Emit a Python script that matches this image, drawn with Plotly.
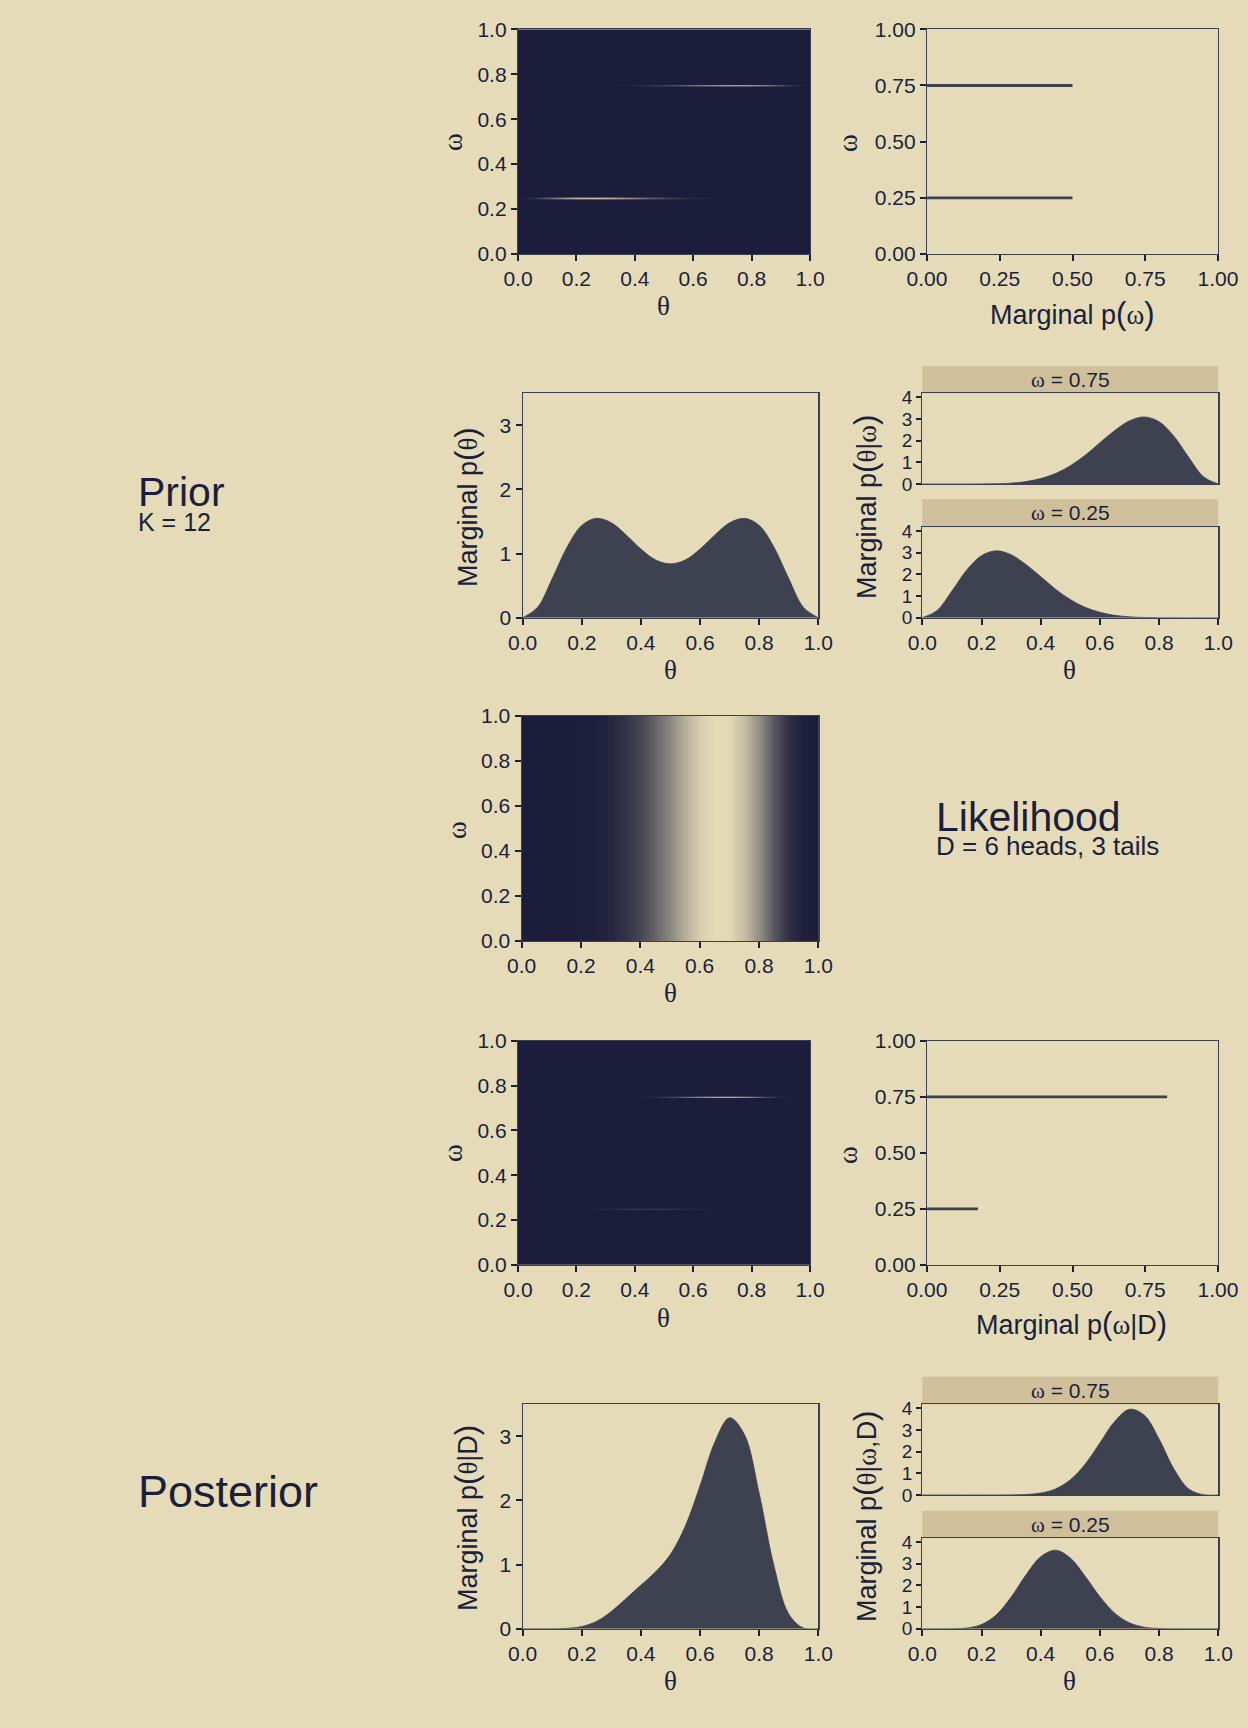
import plotly.graph_objects as go

W, H = 1248, 1728
BG = "#E5DBB8"
STRIP = "#CFC09B"
FILL = "#3D4150"
INK = "#1B1F3B"
BORDER = "#3A3F52"
DARK = "#1B1D3A"
FONT = "Liberation Sans, Arial, sans-serif"

# ---------------- data ----------------
theta = [0.00, 0.05, 0.10, 0.15, 0.20, 0.25, 0.30, 0.35, 0.40, 0.45, 0.50,
         0.55, 0.60, 0.65, 0.70, 0.75, 0.80, 0.85, 0.90, 0.95, 1.00]
omega_levels = [0.25, 0.75]
p_omega_prior = [0.50, 0.50]
p_omega_post = [0.175, 0.825]

prior_theta_w025 = [0, 0.33, 1.23, 2.20, 2.87, 3.09, 2.91, 2.46, 1.90, 1.32, 0.84,
                    0.48, 0.25, 0.11, 0.04, 0.01, 0.003, 0, 0, 0, 0]
prior_theta_w075 = [0, 0, 0, 0, 0.003, 0.01, 0.04, 0.11, 0.25, 0.48, 0.84,
                    1.32, 1.90, 2.46, 2.91, 3.09, 2.87, 2.20, 1.23, 0.33, 0]
prior_theta_marg = [0, 0.16, 0.61, 1.10, 1.44, 1.55, 1.48, 1.29, 1.07, 0.90, 0.84,
                    0.90, 1.07, 1.29, 1.48, 1.55, 1.44, 1.10, 0.61, 0.16, 0]
likelihood_rel = [0, 0, 0, 0, 0.004, 0.015, 0.05, 0.12, 0.22, 0.37, 0.56,
                  0.77, 0.93, 1.00, 0.98, 0.85, 0.60, 0.30, 0.10, 0.015, 0]
post_theta_w025 = [0, 0, 0.002, 0.03, 0.19, 0.64, 1.46, 2.48, 3.33, 3.63, 3.27,
                   2.43, 1.48, 0.72, 0.27, 0.07, 0.01, 0.001, 0, 0, 0]
post_theta_w075 = [0, 0, 0, 0, 0, 0.001, 0.005, 0.024, 0.09, 0.28, 0.70,
                   1.42, 2.40, 3.39, 3.95, 3.68, 2.58, 1.20, 0.28, 0.013, 0]
post_theta_marg = [0, 0, 0, 0.006, 0.034, 0.115, 0.27, 0.47, 0.68, 0.89, 1.16,
                   1.60, 2.23, 2.91, 3.29, 3.03, 2.11, 0.98, 0.23, 0.01, 0]

tick01 = [0, 0.2, 0.4, 0.6, 0.8, 1.0]
tick_q = [0, 0.25, 0.5, 0.75, 1.0]
tick_marg = [0, 1, 2, 3]
tick_facet = [0, 1, 2, 3, 4]

# ---------------- helpers ----------------
def dx(a, b):
    return [a / W, b / W]

def dy(top, bottom):
    return [1 - bottom / H, 1 - top / H]

def serif(s):
    return f'<span style="font-family:Liberation Serif">{s}</span>'

def sized(s, size):
    return f'<span style="font-size:{size}px">{s}</span>'

omega_step = 0.005
omega_grid = [round(i * omega_step, 4) for i in range(201)]

def joint(weights, cond025, cond075):
    z = []
    for w in omega_grid:
        if abs(w - omega_levels[0]) < 1e-9:
            z.append([weights[0] * v for v in cond025])
        elif abs(w - omega_levels[1]) < 1e-9:
            z.append([weights[1] * v for v in cond075])
        else:
            z.append([0.0] * len(theta))
    return z

cscale = [[0, DARK], [1, BG]]

fig = go.Figure()

def heat(z, y, n):
    fig.add_trace(go.Heatmap(x=theta, y=y, z=z, colorscale=cscale, showscale=False,
                             zsmooth="best", xaxis=f"x{n}", yaxis=f"y{n}", hoverinfo="skip"))

def area(vals, n):
    fig.add_trace(go.Scatter(x=theta, y=vals, mode="lines", fill="tozeroy",
                             fillcolor=FILL, line=dict(color=FILL, width=0.8, shape="spline"),
                             xaxis=f"x{n}", yaxis=f"y{n}", showlegend=False, hoverinfo="skip"))

def bars(ps, n):
    xs, ys = [], []
    for w, p in zip(omega_levels, ps):
        xs += [0, p, None]
        ys += [w, w, None]
    fig.add_trace(go.Scatter(x=xs, y=ys, mode="lines", line=dict(color=FILL, width=2.8),
                             xaxis=f"x{n}", yaxis=f"y{n}", showlegend=False, hoverinfo="skip"))

heat(joint(p_omega_prior, prior_theta_w025, prior_theta_w075), omega_grid, 1)
bars(p_omega_prior, 2)
area(prior_theta_marg, 3)
area(prior_theta_w075, 4)
area(prior_theta_w025, 5)
heat([likelihood_rel, likelihood_rel], [0, 1], 6)
heat(joint(p_omega_post, post_theta_w025, post_theta_w075), omega_grid, 7)
bars(p_omega_post, 8)
area(post_theta_marg, 9)
area(post_theta_w075, 10)
area(post_theta_w025, 11)

# panel geometry (pixels): xrange, yrange(top,bottom)
FX = (922.3, 1218.3)
panels = {
    1: dict(x=(518, 810), y=(29.3, 254), yr=[0, 1], xt=tick01, xf=".1f", yt=tick01, yf=".1f"),
    2: dict(x=(927, 1218), y=(29.3, 254), yr=[0, 1], xt=tick_q, xf=".2f", yt=tick_q, yf=".2f"),
    3: dict(x=(522.7, 818.3), y=(393.3, 617.7), yr=[0, 3.5], xt=tick01, xf=".1f", yt=tick_marg, yf="d"),
    4: dict(x=FX, y=(393.3, 484), yr=[0, 4.18], xt=None, xf=".1f", yt=tick_facet, yf="d"),
    5: dict(x=FX, y=(527.3, 617.7), yr=[0, 4.18], xt=tick01, xf=".1f", yt=tick_facet, yf="d"),
    6: dict(x=(521.7, 818.3), y=(716, 941), yr=[0, 1], xt=tick01, xf=".1f", yt=tick01, yf=".1f"),
    7: dict(x=(518, 810), y=(1040.7, 1265), yr=[0, 1], xt=tick01, xf=".1f", yt=tick01, yf=".1f"),
    8: dict(x=(927, 1218), y=(1040.7, 1265), yr=[0, 1], xt=tick_q, xf=".2f", yt=tick_q, yf=".2f"),
    9: dict(x=(522.7, 818.3), y=(1404.3, 1628.7), yr=[0, 3.5], xt=tick01, xf=".1f", yt=tick_marg, yf="d"),
    10: dict(x=FX, y=(1404.3, 1495), yr=[0, 4.18], xt=None, xf=".1f", yt=tick_facet, yf="d"),
    11: dict(x=FX, y=(1538.3, 1628.7), yr=[0, 4.18], xt=tick01, xf=".1f", yt=tick_facet, yf="d"),
}
facet_panels = {4, 5, 10, 11}

common = dict(showline=True, mirror=True, linecolor=BORDER, linewidth=1.2,
              tickcolor=INK, tickwidth=2, ticklen=6, showgrid=False, zeroline=False,
              automargin=False,
              tickfont=dict(size=21, color=INK, family=FONT), fixedrange=True)

layout = {}
for n, p in panels.items():
    sx = "" if n == 1 else str(n)
    xa = dict(common, domain=dx(*p["x"]), range=[0, 1], anchor=f"y{sx}")
    if p["xt"] is None:
        xa.update(ticks="", showticklabels=False)
    else:
        xa.update(ticks="outside", tickvals=p["xt"], tickformat=p["xf"])
    ya = dict(common, domain=dy(*p["y"]), range=p["yr"], anchor=f"x{sx}",
              ticks="outside", tickvals=p["yt"], tickformat=p["yf"])
    if n in facet_panels:
        ya.update(tickfont=dict(size=19, color=INK, family=FONT), ticklen=5)
    layout[f"xaxis{sx}"] = xa
    layout[f"yaxis{sx}"] = ya

fig.update_layout(template="none")
fig.update_layout(**layout)

# strips
shapes = []
annotations = []
strips = [(366, 393.3, "0.75"), (499.3, 527.3, "0.25"),
          (1376.7, 1404.3, "0.75"), (1510.7, 1538.3, "0.25")]
for top, bot, lab in strips:
    shapes.append(dict(type="rect", xref="paper", yref="paper",
                       x0=FX[0] / W, x1=FX[1] / W, y0=1 - bot / H, y1=1 - top / H,
                       fillcolor=STRIP, line=dict(width=0), layer="below"))
    annotations.append(dict(x=(FX[0] + FX[1]) / 2 / W, y=1 - (top + bot) / 2 / H,
                            xref="paper", yref="paper", showarrow=False,
                            xanchor="center", yanchor="middle",
                            text=serif("ω") + " = " + lab,
                            font=dict(size=21, color=INK, family=FONT)))

def ann(text, x, y, size=27, angle=0, xanchor="center", yanchor="middle", align="center"):
    annotations.append(dict(x=x / W, y=1 - y / H, xref="paper", yref="paper", text=text,
                            showarrow=False, xanchor=xanchor, yanchor=yanchor, align=align,
                            textangle=angle, font=dict(size=size, color=INK, family=FONT)))

th = serif("θ")
om = serif("ω")
L, R = sized("(", 31), sized(")", 31)

def marg(inner):
    return "Marginal p" + L + inner + R

# axis titles
ann(om, 453, 142, angle=-90)
ann(th, 663, 306)
ann(om, 848, 143, angle=-90)
ann(marg(om), 1072, 313)
ann(marg(th), 466, 507, angle=-90)
ann(th, 670, 670)
ann(marg(th + "|" + om), 865, 507, angle=-90)
ann(th, 1069, 670)
ann(om, 457, 830, angle=-90)
ann(th, 670, 993)
ann(om, 453, 1153, angle=-90)
ann(th, 663, 1318)
ann(om, 848, 1155, angle=-90)
ann(marg(om + "|D"), 1071, 1323)
ann(marg(th + "|D"), 466, 1518, angle=-90)
ann(th, 670, 1681)
ann(marg(th + "|" + om + ",D"), 865, 1517, angle=-90)
ann(th, 1069, 1681)

# section labels (two-line blocks: baseline gap = 1.3 x base size)
ann(sized("Prior", 41) + "<br>" + sized("K = 12", 25), 136, 467, size=19,
    xanchor="left", yanchor="top", align="left")
ann(sized("Likelihood", 41) + "<br>" + sized("D = 6 heads, 3 tails", 26), 934, 792,
    size=18.5, xanchor="left", yanchor="top", align="left")
ann("Posterior", 136, 1491, size=45, xanchor="left")

fig.update_layout(width=W, height=H, margin=dict(l=0, r=0, t=0, b=0, pad=0),
                  paper_bgcolor=BG, plot_bgcolor=BG, showlegend=False,
                  shapes=shapes, annotations=annotations,
                  font=dict(family=FONT, color=INK))

fig.write_html("out.html",
               config={"displayModeBar": False, "staticPlot": True},
               post_script="document.body.style.margin='0';"
                           "document.body.style.background='" + BG + "';"
                           "document.documentElement.style.overflow='hidden';")
